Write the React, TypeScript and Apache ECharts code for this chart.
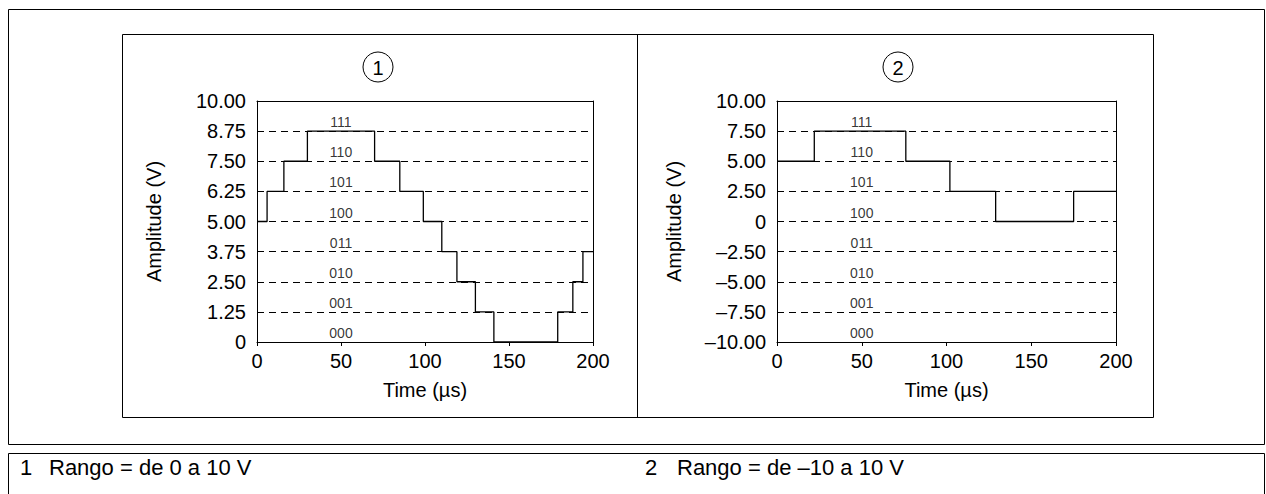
import React, { useEffect, useRef } from "react";
import * as echarts from "echarts";

// ---- data ----
const timeTicks = [0, 50, 100, 150, 200];
const leftTimes = [0, 6, 16, 30, 70, 85, 99, 110, 119, 130, 141, 179, 188, 194, 200];
const leftValues = [5, 6.25, 7.5, 8.75, 7.5, 6.25, 5, 3.75, 2.5, 1.25, 0, 1.25, 2.5, 3.75, 3.75];
const rightTimes = [0, 22, 76, 102, 129, 175, 200];
const rightValues = [5, 7.5, 5, 2.5, 0, 2.5, 2.5];
const codes = ["000", "001", "010", "011", "100", "101", "110", "111"];
const leftRange = { min: 0, max: 10, step: 1.25 };
const rightRange = { min: -10, max: 10, step: 2.5 };
const legendItems = [
  { num: "1", text: "Rango = de 0 a 10 V" },
  { num: "2", text: "Rango = de \u201310 a 10 V" },
];
const panelNums = ["1", "2"];

const FONT = '"Liberation Sans", Arial, Helvetica, sans-serif';
const CODE_X = 50;

function fmtY(v: number) {
  if (Math.abs(v) < 1e-9) return "0";
  if (v < 0) return "\u2013" + Math.abs(v).toFixed(2);
  return v.toFixed(2);
}

export default function App() {
  const ref = useRef<HTMLDivElement>(null);
  useEffect(() => {
    document.body.style.margin = "0";
    const chart = echarts.init(ref.current!, null, { renderer: "svg" });
    const grids = [
      { left: 257, top: 101, width: 336, height: 241 },
      { left: 777, top: 101, width: 339, height: 241 },
    ];
    const ranges = [leftRange, rightRange];
    const lines = [
      leftTimes.map((t, i) => [t, leftValues[i]]),
      rightTimes.map((t, i) => [t, rightValues[i]]),
    ];
    const xMin = timeTicks[0];
    const xMax = timeTicks[timeTicks.length - 1];
    const xInt = timeTicks[1] - timeTicks[0];
    const option: any = {
      animation: false,
      backgroundColor: "#fff",
      grid: grids,
      xAxis: [
        ...grids.map((_, i) => ({
          type: "value",
          gridIndex: i,
          position: "bottom",
          min: xMin,
          max: xMax,
          interval: xInt,
          name: "Time (\u00b5s)",
          nameLocation: "middle",
          nameGap: 38,
          nameTextStyle: { fontFamily: FONT, fontSize: 20, color: "#000" },
          axisLine: { show: true, onZero: false, lineStyle: { color: "#000", width: 1 } },
          axisTick: { show: true, length: 4, lineStyle: { color: "#000" } },
          axisLabel: { fontFamily: FONT, fontSize: 20, color: "#000", margin: 9 },
          splitLine: { show: false },
        })),
        ...grids.map((_, i) => ({
          type: "value",
          gridIndex: i,
          position: "top",
          min: xMin,
          max: xMax,
          interval: xInt,
          axisLine: { show: true, onZero: false, lineStyle: { color: "#000", width: 1 } },
          axisTick: { show: false },
          axisLabel: { show: false },
          splitLine: { show: false },
        })),
      ],
      yAxis: [
        ...ranges.map((r, i) => ({
          type: "value",
          gridIndex: i,
          position: "left",
          min: r.min,
          max: r.max,
          interval: r.step,
          name: "Amplitude (V)",
          nameLocation: "middle",
          nameRotate: 90,
          nameGap: 93,
          nameTextStyle: { fontFamily: FONT, fontSize: 20, color: "#000" },
          axisLine: { show: true, onZero: false, lineStyle: { color: "#000", width: 1 } },
          axisTick: { show: false },
          axisLabel: {
            fontFamily: FONT,
            fontSize: 20,
            color: "#000",
            margin: 11,
            formatter: (v: number) => fmtY(v),
          },
          splitLine: {
            show: true,
            lineStyle: { color: "#000", width: 1, type: [7, 5] },
          },
        })),
        ...ranges.map((r, i) => ({
          type: "value",
          gridIndex: i,
          position: "right",
          min: r.min,
          max: r.max,
          interval: r.step,
          axisLine: { show: true, onZero: false, lineStyle: { color: "#000", width: 1 } },
          axisTick: { show: false },
          axisLabel: { show: false },
          splitLine: { show: false },
        })),
      ],
      series: [
        ...lines.map((d, i) => ({
          type: "line",
          xAxisIndex: i,
          yAxisIndex: i,
          data: d,
          step: "end",
          showSymbol: false,
          symbol: "none",
          lineStyle: { color: "#000", width: 1.3 },
          z: 5,
        })),
        ...ranges.map((r, i) => ({
          type: "scatter",
          xAxisIndex: i,
          yAxisIndex: i,
          symbolSize: 0,
          data: codes.map((c, k) => ({
            value: [CODE_X, r.min + k * r.step],
            label: { formatter: c },
          })),
          label: {
            show: true,
            position: "top",
            distance: 2,
            fontFamily: FONT,
            fontSize: 14,
            color: "#000",
          },
          z: 6,
        })),
      ],
      graphic: [
        {
          type: "rect",
          silent: true,
          shape: { x: 8.5, y: 9.5, width: 1256, height: 435 },
          style: { fill: "none", stroke: "#000", lineWidth: 1 },
        },
        {
          type: "rect",
          silent: true,
          shape: { x: 122.5, y: 34.5, width: 1031, height: 383 },
          style: { fill: "none", stroke: "#000", lineWidth: 1 },
        },
        {
          type: "line",
          silent: true,
          shape: { x1: 637.5, y1: 34.5, x2: 637.5, y2: 417.5 },
          style: { stroke: "#000", lineWidth: 1 },
        },
        {
          type: "rect",
          silent: true,
          shape: { x: 8.5, y: 453.5, width: 1256, height: 60 },
          style: { fill: "none", stroke: "#000", lineWidth: 1 },
        },
        ...panelNums.flatMap((n, i) => {
          const cx = [378, 898][i];
          return [
            {
              type: "circle",
              silent: true,
              shape: { cx, cy: 67, r: 15 },
              style: { fill: "none", stroke: "#000", lineWidth: 1 },
            },
            {
              type: "text",
              silent: true,
              x: cx,
              y: 68,
              style: {
                text: n,
                font: `20px ${FONT}`,
                fill: "#000",
                align: "center",
                verticalAlign: "middle",
                textAlign: "center",
                textVerticalAlign: "middle",
              },
            },
          ];
        }),
        ...legendItems.flatMap((it, i) => {
          const nx = [20, 645][i];
          const tx = [49, 677][i];
          return [
            {
              type: "text",
              silent: true,
              x: nx,
              y: 467,
              style: {
                text: it.num,
                font: `22px ${FONT}`,
                fill: "#000",
                align: "left",
                verticalAlign: "middle",
                textAlign: "left",
                textVerticalAlign: "middle",
              },
            },
            {
              type: "text",
              silent: true,
              x: tx,
              y: 467,
              style: {
                text: it.text,
                font: `22px ${FONT}`,
                fill: "#000",
                align: "left",
                verticalAlign: "middle",
                textAlign: "left",
                textVerticalAlign: "middle",
              },
            },
          ];
        }),
      ],
    };
    chart.setOption(option);
    return () => chart.dispose();
  }, []);
  return <div ref={ref} style={{ width: 1266, height: 494 }} />;
}
